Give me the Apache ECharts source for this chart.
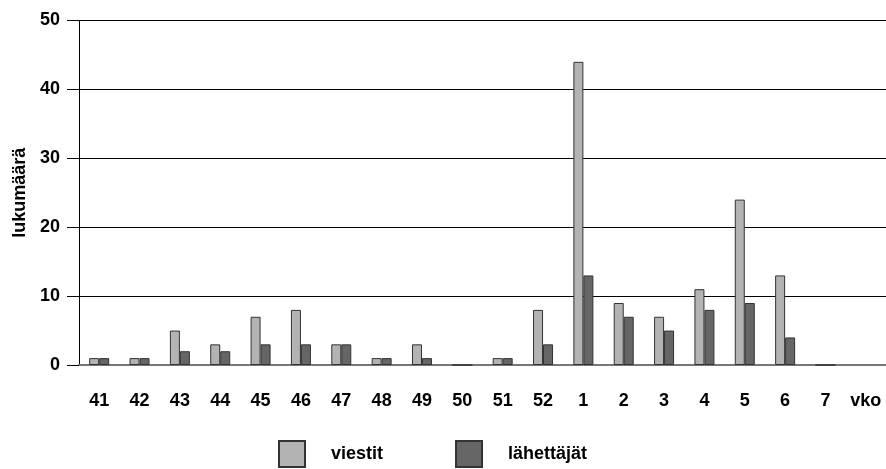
<!DOCTYPE html>
<html><head><meta charset="utf-8">
<script src="https://cdn.jsdelivr.net/npm/echarts@6/dist/echarts.min.js"></script>
<style>html,body{margin:0;padding:0;background:#fff}#c{width:886px;height:469px}</style>
</head><body><div id="c"></div>
<script>
const categories = ['41','42','43','44','45','46','47','48','49','50','51','52','1','2','3','4','5','6','7','vko'];
const viestit = [1,1,5,3,7,8,3,1,3,0,1,8,44,9,7,11,24,13,0,null];
const lahettajat = [1,1,2,2,3,3,3,1,1,0,1,3,13,7,5,8,9,4,0,null];
const yTicks = [0,10,20,30,40,50];

const font = '"Liberation Sans", Arial, sans-serif';
const chart = echarts.init(document.getElementById('c'), null, {renderer:'canvas'});
chart.setOption({
  animation:false,
  grid:{left:79, right:-1, top:20.5, bottom:104, containLabel:false},
  legend:{
    top:435, left:273,
    itemWidth:26, itemHeight:26, itemGap:72,
    icon:'rect',
    textStyle:{fontFamily:font, fontWeight:'bold', fontSize:18, color:'#000', padding:[0,0,0,21]},
    data:['viestit','lähettäjät']
  },
  xAxis:{
    type:'category', data:categories, boundaryGap:true,
    axisLine:{lineStyle:{color:'#777', width:2}},
    axisTick:{alignWithLabel:true, length:13, lineStyle:{color:'#333', width:1}},
    axisLabel:{fontFamily:font, fontWeight:'bold', fontSize:18, color:'#000', margin:27, interval:0}
  },
  yAxis:{
    type:'value', min:yTicks[0], max:yTicks[yTicks.length-1], interval:10,
    name:'lukumäärä', nameLocation:'middle', nameGap:58, nameRotate:90,
    nameTextStyle:{fontFamily:font, fontWeight:'bold', fontSize:18, color:'#000', padding:[0,0,-26,0]},
    axisLine:{show:true, lineStyle:{color:'#000', width:1}},
    axisTick:{show:true, length:12, lineStyle:{color:'#000'}},
    axisLabel:{fontFamily:font, fontWeight:'bold', fontSize:18, color:'#000', margin:19},
    splitLine:{show:true, lineStyle:{color:'#000', width:1.2}}
  },
  series:[
    {name:'viestit', type:'bar', data:viestit, barWidth:10, barGap:'0%',
     itemStyle:{color:'#b3b3b3', borderColor:'#333', borderWidth:1}},
    {name:'lähettäjät', type:'bar', data:lahettajat, barWidth:10,
     itemStyle:{color:'#666666', borderColor:'#333', borderWidth:1}}
  ]
});
</script></body></html>
